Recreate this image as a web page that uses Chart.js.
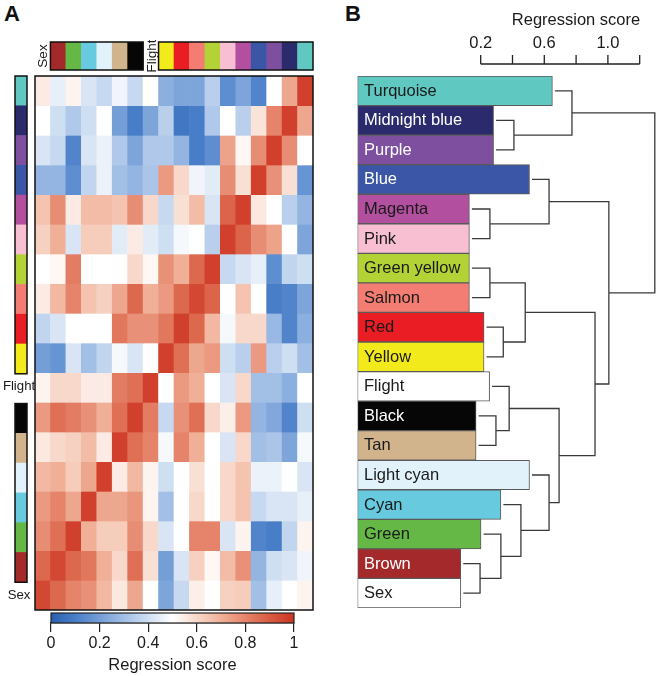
<!DOCTYPE html>
<html>
<head>
<meta charset="utf-8">
<script src="https://cdn.jsdelivr.net/npm/chart.js@4/dist/chart.umd.min.js"></script>
<style>
  html, body { margin: 0; padding: 0; background: #fff; }
  body { width: 669px; height: 676px; position: relative; overflow: hidden; font-family: "Liberation Sans", Arial, sans-serif; }
  canvas { position: absolute; }
  .panel { position: absolute; font-weight: bold; font-size: 22px; color: #111; }
</style>
</head>
<body>
<div class="panel" style="left:4px;top:1px;">A</div>
<div class="panel" style="left:345px;top:1px;">B</div>
<canvas id="heat" width="282" height="538" style="left:33px;top:74px;"></canvas>
<canvas id="leftBar" width="40" height="540" style="left:0px;top:74px;"></canvas>
<canvas id="topBar" width="282" height="32" style="left:33px;top:40px;"></canvas>
<canvas id="cbar" width="290" height="71" style="left:30px;top:605px;"></canvas>
<canvas id="dendro" width="329" height="676" style="left:340px;top:0px;"></canvas>
<script>
// ---------------- DATA ----------------
// Row order (top to bottom) of the heatmap and of panel B
const rowLabels = ["Turquoise","Midnight blue","Purple","Blue","Magenta","Pink","Green yellow","Salmon","Red","Yellow","Flight","Black","Tan","Light cyan","Cyan","Green","Brown","Sex"];
// Column order (left to right) of the heatmap
const colLabels = ["Sex","Brown","Green","Cyan","Light cyan","Tan","Black","Flight","Yellow","Red","Salmon","Green yellow","Pink","Magenta","Blue","Purple","Midnight blue","Turquoise"];
// Module colours
const moduleColors = {
  "Turquoise":"#5fc8c1","Midnight blue":"#2b2a6d","Purple":"#7e4f9f","Blue":"#3b56a6","Magenta":"#b24f9f",
  "Pink":"#f7bfd1","Green yellow":"#b3d235","Salmon":"#f37d73","Red":"#ea1d25","Yellow":"#f3ea1b",
  "Flight":"#ffffff","Black":"#060606","Tan":"#d2b48c","Light cyan":"#e1f2fa","Cyan":"#67cadf",
  "Green":"#65b846","Brown":"#a3292b","Sex":"#ffffff"
};
const traitLabels = ["Sex","Flight"];
const whiteTextLabels = ["Midnight blue","Purple","Blue","Black","Brown"];

// Heatmap regression scores: heat[row][col], rows = rowLabels, cols = colLabels
const heat = [
  [0.55,0.45,0.53,0.42,0.38,0.47,0.38,0.50,0.25,0.22,0.22,0.35,0.15,0.22,0.12,0.50,0.72,0.97],
  [0.50,0.40,0.33,0.40,0.50,0.20,0.10,0.22,0.35,0.08,0.10,0.33,0.50,0.35,0.57,0.80,0.97,0.72],
  [0.42,0.38,0.12,0.42,0.46,0.33,0.22,0.33,0.33,0.27,0.10,0.15,0.73,0.52,0.78,0.97,0.78,0.50],
  [0.27,0.27,0.15,0.37,0.46,0.30,0.27,0.32,0.75,0.60,0.47,0.44,0.78,0.58,0.97,0.77,0.58,0.17],
  [0.65,0.78,0.55,0.67,0.67,0.65,0.78,0.60,0.38,0.58,0.67,0.42,0.88,0.97,0.56,0.50,0.35,0.27],
  [0.62,0.70,0.42,0.63,0.63,0.44,0.55,0.44,0.40,0.48,0.50,0.35,0.97,0.88,0.78,0.73,0.50,0.22],
  [0.50,0.52,0.82,0.50,0.50,0.50,0.60,0.52,0.77,0.70,0.87,0.97,0.38,0.42,0.45,0.15,0.37,0.40],
  [0.55,0.68,0.80,0.65,0.62,0.72,0.87,0.70,0.75,0.87,0.95,0.88,0.50,0.65,0.50,0.10,0.12,0.22],
  [0.37,0.42,0.50,0.50,0.50,0.83,0.77,0.77,0.83,0.97,0.87,0.68,0.48,0.60,0.60,0.28,0.12,0.25],
  [0.20,0.17,0.42,0.30,0.37,0.48,0.42,0.50,0.97,0.85,0.72,0.75,0.40,0.35,0.75,0.35,0.40,0.30],
  [0.53,0.60,0.60,0.55,0.55,0.82,0.85,0.97,0.50,0.75,0.70,0.50,0.42,0.60,0.30,0.30,0.25,0.50],
  [0.75,0.85,0.82,0.77,0.70,0.85,0.97,0.82,0.38,0.77,0.85,0.60,0.54,0.75,0.27,0.23,0.12,0.40],
  [0.56,0.60,0.62,0.67,0.55,0.97,0.85,0.80,0.48,0.80,0.70,0.50,0.42,0.60,0.30,0.32,0.22,0.48],
  [0.68,0.70,0.63,0.72,0.97,0.55,0.68,0.53,0.40,0.50,0.58,0.50,0.60,0.65,0.46,0.46,0.50,0.42],
  [0.75,0.80,0.72,0.97,0.72,0.72,0.76,0.53,0.30,0.50,0.60,0.50,0.60,0.65,0.38,0.42,0.42,0.45],
  [0.78,0.85,0.97,0.70,0.63,0.63,0.78,0.60,0.42,0.50,0.80,0.80,0.42,0.53,0.12,0.10,0.37,0.53],
  [0.87,0.95,0.87,0.83,0.70,0.60,0.85,0.58,0.20,0.42,0.62,0.52,0.67,0.77,0.27,0.40,0.42,0.47],
  [0.95,0.87,0.80,0.77,0.68,0.56,0.72,0.50,0.22,0.38,0.54,0.50,0.62,0.63,0.30,0.45,0.50,0.53]
];

// Colour-bar legend
const cbarTicks = [0, 0.2, 0.4, 0.6, 0.8, 1];
const cbarTickLabels = ["0","0.2","0.4","0.6","0.8","1"];
const scoreTitle = "Regression score";

// Panel B: bar ends (on the regression-score axis)
const barEnds = [0.651,0.281,0.281,0.507,0.129,0.129,0.129,0.129,0.221,0.221,0.256,0.171,0.171,0.507,0.327,0.202,0.075,0.075];
// Dendrogram merges: [childA, childB, height]; leaves 0..17, new nodes 18..
const merges = [
  [1,2,0.409],   // 18
  [0,18,0.774],  // 19
  [4,5,0.258],   // 20
  [3,20,0.630],  // 21
  [6,7,0.258],   // 22
  [8,9,0.342],   // 23
  [22,23,0.480], // 24
  [16,17,0.196], // 25
  [15,25,0.327], // 26
  [14,26,0.453], // 27
  [13,27,0.630], // 28
  [11,12,0.296], // 29
  [10,29,0.379], // 30
  [30,28,0.693], // 31
  [24,31,0.919], // 32
  [21,32,1.006], // 33
  [19,33,1.295]  // 34
];
const scoreTicks = [0.2, 0.4, 0.6, 0.8, 1.0, 1.2];
const scoreTickLabels = ["0.2","","0.6","","1.0",""];

// ---------------- HELPERS ----------------
const FONT = "'Liberation Sans', Arial, sans-serif";
const cmapStops = [
  [0.0,[42,96,176]],[0.1,[72,126,200]],[0.2,[116,158,214]],[0.3,[162,191,230]],[0.4,[207,223,242]],
  [0.5,[255,255,255]],[0.6,[248,216,202]],[0.7,[240,176,152]],[0.8,[229,132,106]],[0.9,[216,92,66]],[1.0,[204,52,36]]
];
function cmap(v){
  v = Math.max(0, Math.min(1, v));
  for (let i=1;i<cmapStops.length;i++){
    if (v <= cmapStops[i][0]){
      const [a,ca] = cmapStops[i-1], [b,cb] = cmapStops[i];
      const t = (v-a)/(b-a);
      const c = ca.map((x,k)=>Math.round(x+(cb[k]-x)*t));
      return `rgb(${c[0]},${c[1]},${c[2]})`;
    }
  }
  return 'rgb(204,52,36)';
}
Chart.defaults.font.family = FONT;
Chart.defaults.color = '#1a1a1a';
Chart.defaults.animation = false;
Chart.defaults.devicePixelRatio = 1;
const hidden = { display: false };
const BIG = 16.5, SMALL = 13.2;

// Find contiguous groups of coloured (non-trait) indices
function groupsOf(labels){
  const g = []; let s = null;
  labels.forEach((l,i)=>{
    const isMod = !traitLabels.includes(l);
    if (isMod && s===null) s = i;
    if (!isMod && s!==null){ g.push([s,i-1]); s=null; }
  });
  if (s!==null) g.push([s,labels.length-1]);
  return g;
}

// ---------------- HEATMAP ----------------
new Chart(document.getElementById('heat'), {
  type: 'bar',
  data: {
    labels: colLabels,
    datasets: rowLabels.map((r,i)=>({
      label: r,
      data: colLabels.map(()=>1),
      backgroundColor: heat[i].map(cmap),
      borderWidth: 0,
      barPercentage: 1, categoryPercentage: 1
    }))
  },
  options: {
    responsive: false,
    layout: { padding: 2 },
    plugins: { legend: hidden, tooltip: { enabled:false } },
    scales: {
      x: { display:false, stacked:true },
      y: { display:false, stacked:true, reverse:true, min:0, max:rowLabels.length }
    }
  },
  plugins: [{
    id:'frame',
    afterDatasetsDraw(chart){
      const {ctx, chartArea:a} = chart;
      ctx.save(); ctx.strokeStyle='#111'; ctx.lineWidth=1.5;
      ctx.strokeRect(a.left, a.top, a.right-a.left, a.bottom-a.top);
      ctx.restore();
    }
  }]
});

// ---------------- TOP COLOUR BAR ----------------
new Chart(document.getElementById('topBar'), {
  type: 'bar',
  data: {
    labels: colLabels,
    datasets: [{
      data: colLabels.map(l => traitLabels.includes(l) ? null : 1),
      backgroundColor: colLabels.map(l => moduleColors[l]),
      borderWidth: 0, barPercentage: 1, categoryPercentage: 1
    }]
  },
  options: {
    responsive:false, layout:{ padding:2 },
    plugins:{ legend:hidden, tooltip:{enabled:false} },
    scales:{ x:{display:false}, y:{display:false, min:0, max:1} }
  },
  plugins: [{
    id:'groups',
    afterDatasetsDraw(chart){
      const {ctx, chartArea:a, scales:{x}} = chart;
      const w = x.getPixelForValue(1) - x.getPixelForValue(0);
      ctx.save(); ctx.strokeStyle='#111'; ctx.lineWidth=1.5;
      groupsOf(colLabels).forEach(([s,e])=>{
        const l = x.getPixelForValue(s)-w/2, r = x.getPixelForValue(e)+w/2;
        ctx.strokeRect(l, a.top, r-l, a.bottom-a.top);
      });
      ctx.fillStyle='#1a1a1a'; ctx.font = "13.5px " + FONT;
      ctx.textAlign='center'; ctx.textBaseline='middle';
      colLabels.forEach((l,i)=>{
        if (!traitLabels.includes(l)) return;
        ctx.save();
        ctx.translate(x.getPixelForValue(i)+1, (a.top+a.bottom)/2);
        ctx.rotate(-Math.PI/2);
        ctx.fillText(l, 0, 0);
        ctx.restore();
      });
      ctx.restore();
    }
  }]
});

// ---------------- LEFT COLOUR BAR ----------------
new Chart(document.getElementById('leftBar'), {
  type: 'bar',
  data: {
    labels: rowLabels,
    datasets: [{
      data: rowLabels.map(l => traitLabels.includes(l) ? null : 1),
      backgroundColor: rowLabels.map(l => moduleColors[l]),
      borderWidth: 0, barPercentage: 1, categoryPercentage: 1
    }]
  },
  options: {
    indexAxis:'y', responsive:false,
    layout:{ padding:{ left:15, right:13, top:2, bottom:2 } },
    plugins:{ legend:hidden, tooltip:{enabled:false} },
    scales:{ y:{display:false}, x:{display:false, min:0, max:1} }
  },
  plugins: [{
    id:'groups',
    afterDatasetsDraw(chart){
      const {ctx, chartArea:a, scales:{y}} = chart;
      const h = y.getPixelForValue(1) - y.getPixelForValue(0);
      ctx.save(); ctx.strokeStyle='#111'; ctx.lineWidth=1.5;
      groupsOf(rowLabels).forEach(([s,e])=>{
        const t = y.getPixelForValue(s)-h/2, b = y.getPixelForValue(e)+h/2;
        ctx.strokeRect(a.left, t, a.right-a.left, b-t);
      });
      ctx.fillStyle='#1a1a1a'; ctx.font = SMALL + "px " + FONT;
      ctx.textAlign='center'; ctx.textBaseline='middle';
      rowLabels.forEach((l,i)=>{
        if (!traitLabels.includes(l)) return;
        ctx.fillText(l, (a.left+a.right)/2 - 2, y.getPixelForValue(i)-2);
      });
      ctx.restore();
    }
  }]
});

// ---------------- COLOUR-BAR LEGEND ----------------
new Chart(document.getElementById('cbar'), {
  type: 'scatter',
  data: { datasets: [{ data: [] }] },
  options: {
    responsive:false,
    layout:{ padding:{ left:21, right:26, top:8, bottom:0 } },
    plugins:{ legend:hidden, tooltip:{enabled:false} },
    scales:{
      y:{ display:false, min:0, max:1 },
      x:{
        type:'linear', min:0, max:1,
        afterBuildTicks(s){ s.ticks = cbarTicks.map(v=>({value:v})); },
        afterFit(s){ s.height = 53; },
        grid:{ drawOnChartArea:false, drawTicks:true, tickLength:9, color:'#222', lineWidth:1.2 },
        border:{ display:true, color:'#222', width:1.2 },
        ticks:{ padding:1.5, color:'#1a1a1a', font:{ size:16 }, maxRotation:0, autoSkip:false,
                callback:(v,i)=>cbarTickLabels[i] },
        title:{ display:true, text:scoreTitle, color:'#1a1a1a', font:{ size:BIG }, padding:{ top:0, bottom:1 } }
      }
    }
  },
  plugins: [{
    id:'gradient',
    beforeDatasetsDraw(chart){
      const {ctx, chartArea:a, scales:{x}} = chart;
      const g = ctx.createLinearGradient(x.getPixelForValue(0),0,x.getPixelForValue(1),0);
      cmapStops.forEach(([v])=>g.addColorStop(v, cmap(v)));
      ctx.save(); ctx.fillStyle = g;
      ctx.fillRect(a.left, a.top, a.right-a.left, a.bottom-a.top);
      ctx.strokeStyle='#222'; ctx.lineWidth=1.2;
      ctx.strokeRect(a.left, a.top, a.right-a.left, a.bottom-a.top);
      ctx.restore();
    }
  }]
});

// ---------------- PANEL B: BARS + DENDROGRAM ----------------
const AXIS_MIN = -0.5748, AXIS_MAX = 1.3277;
new Chart(document.getElementById('dendro'), {
  type:'bar',
  data:{
    labels: rowLabels,
    datasets:[{
      data: barEnds,
      base: AXIS_MIN,
      backgroundColor: rowLabels.map(l=>moduleColors[l]),
      borderColor:'#5a5a5a', borderWidth:1, borderSkipped:false,
      barPercentage:1, categoryPercentage:1
    }]
  },
  options:{
    indexAxis:'y', responsive:false,
    layout:{ padding:{ left:17.5, right:9, top:0, bottom:68 } },
    plugins:{ legend:hidden, tooltip:{enabled:false} },
    scales:{
      y:{ display:false },
      x:{
        position:'top', type:'linear', min:AXIS_MIN, max:AXIS_MAX,
        afterBuildTicks(s){ s.ticks = scoreTicks.map(v=>({value:v})); },
        afterFit(s){ s.height = 76; },
        grid:{ display:false, drawTicks:false },
        border:{ display:false },
        ticks:{ padding:23, color:'#1a1a1a', font:{ size:BIG }, maxRotation:0, autoSkip:false,
                callback:(v,i)=>scoreTickLabels[i] },
        title:{ display:false }
      }
    }
  },
  plugins:[{
    id:'dendro',
    afterDatasetsDraw(chart){
      const {ctx, chartArea:a, scales:{x,y}} = chart;
      ctx.save();
      // top axis line, tick marks and title
      const ay = a.top - 12;
      const xEnd = x.getPixelForValue(scoreTicks[scoreTicks.length-1]);
      ctx.strokeStyle='#222'; ctx.lineWidth=1.3;
      ctx.beginPath();
      ctx.moveTo(x.getPixelForValue(scoreTicks[0]), ay);
      ctx.lineTo(xEnd, ay);
      scoreTicks.forEach(v=>{ const px = x.getPixelForValue(v); ctx.moveTo(px, ay); ctx.lineTo(px, ay-9); });
      ctx.stroke();
      ctx.font = BIG + "px " + FONT; ctx.fillStyle = '#1a1a1a';
      ctx.textAlign='right'; ctx.textBaseline='middle';
      ctx.fillText(scoreTitle, xEnd + 0.5, 20);
      // bar labels
      ctx.textAlign='left';
      rowLabels.forEach((l,i)=>{
        ctx.fillStyle = whiteTextLabels.includes(l) ? '#ffffff' : '#1a1a1a';
        ctx.fillText(l, a.left + 6.5, y.getPixelForValue(i)+0.5);
      });
      // dendrogram
      const nodes = barEnds.map((v,i)=>({ x: x.getPixelForValue(v)+2.5, y: y.getPixelForValue(i) }));
      ctx.strokeStyle='#3a3a3a'; ctx.lineWidth=1.3;
      ctx.beginPath();
      merges.forEach(([c1,c2,h])=>{
        const n1 = nodes[c1], n2 = nodes[c2], px = x.getPixelForValue(h);
        ctx.moveTo(n1.x, n1.y); ctx.lineTo(px, n1.y); ctx.lineTo(px, n2.y); ctx.lineTo(n2.x, n2.y);
        nodes.push({ x: px, y: (n1.y+n2.y)/2 });
      });
      ctx.stroke();
      ctx.restore();
    }
  }]
});
</script>
</body>
</html>
